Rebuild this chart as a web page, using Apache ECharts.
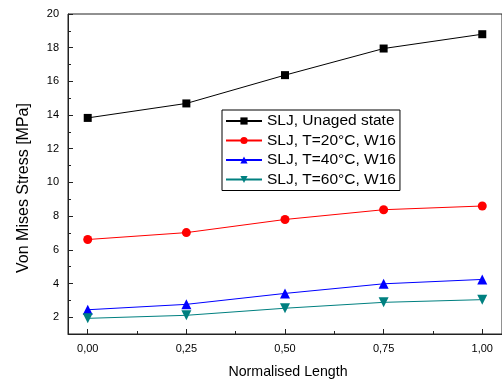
<!DOCTYPE html>
<html>
<head>
<meta charset="utf-8">
<script src="https://cdn.jsdelivr.net/npm/echarts@6/dist/echarts.min.js"></script>
<style>
html,body{margin:0;padding:0;background:#fff;}
#c{width:502px;height:385px;}
</style>
</head>
<body>
<div id="c"></div>
<script>
var xValues = [0, 0.25, 0.5, 0.75, 1.0];
var seriesNames = ['SLJ, Unaged state', 'SLJ, T=20°C, W16', 'SLJ, T=40°C, W16', 'SLJ, T=60°C, W16'];
var unaged = [13.83, 14.69, 16.37, 17.95, 18.8];
var t20 = [6.61, 7.02, 7.8, 8.38, 8.6];
var t40 = [2.44, 2.76, 3.41, 3.98, 4.24];
var t60 = [1.93, 2.11, 2.53, 2.88, 3.04];
var xMajorTicks = [0, 0.25, 0.5, 0.75, 1.0];
var xMinorTicks = [0.125, 0.375, 0.625, 0.875];
var yMajorTicks = [2, 4, 6, 8, 10, 12, 14, 16, 18, 20];
var yMinorTicks = [3, 5, 7, 9, 11, 13, 15, 17, 19];
var xTitle = 'Normalised Length';
var yTitle = 'Von Mises Stress [MPa]';

var FONT = 'Arial, "Liberation Sans", sans-serif';
function pairs(vals){ return xValues.map(function(x,i){ return [x, vals[i]]; }); }

var chart = echarts.init(document.getElementById('c'));
var axisColor = '#222';
var option = {
  animation: false,
  backgroundColor: '#fff',
  textStyle: { fontFamily: FONT },
  grid: { left: 68, top: 14, right: -1.5, bottom: 51, show: true, borderColor: axisColor, borderWidth: 1, backgroundColor: 'transparent' },
  xAxis: [
    {
      type: 'value', min: -0.05, max: 1.05, position: 'bottom',
      axisLine: { show: true, onZero: false, lineStyle: { color: axisColor, width: 1 } },
      axisTick: { show: true, inside: true, length: 5, customValues: xMajorTicks, lineStyle: { color: axisColor } },
      axisLabel: { show: true, customValues: xMajorTicks, margin: 9, fontSize: 11, color: '#000', fontFamily: FONT,
        formatter: function(v){ return v.toFixed(2).replace('.', ','); } },
      splitLine: { show: false }
    },
    {
      type: 'value', min: -0.05, max: 1.05, position: 'bottom', gridIndex: 0,
      axisLine: { show: false, onZero: false },
      axisTick: { show: true, inside: true, length: 3, customValues: xMinorTicks, lineStyle: { color: axisColor } },
      axisLabel: { show: false },
      splitLine: { show: false }
    }
  ],
  yAxis: [
    {
      type: 'value', min: 1, max: 20, position: 'left',
      axisLine: { show: true, onZero: false, lineStyle: { color: axisColor, width: 1 } },
      axisTick: { show: true, inside: true, length: 5, customValues: yMajorTicks, lineStyle: { color: axisColor } },
      axisLabel: { show: true, customValues: yMajorTicks, margin: 9, fontSize: 11, color: '#000', fontFamily: FONT },
      splitLine: { show: false }
    },
    {
      type: 'value', min: 1, max: 20, position: 'left', gridIndex: 0,
      axisLine: { show: false, onZero: false },
      axisTick: { show: true, inside: true, length: 3, customValues: yMinorTicks, lineStyle: { color: axisColor } },
      axisLabel: { show: false },
      splitLine: { show: false }
    }
  ],
  legend: {
    orient: 'vertical', left: 222, top: 110,
    borderColor: '#000', borderWidth: 1, padding: [3, 4, 3, 3],
    itemWidth: 36, itemHeight: 9, itemGap: 3.5,
    backgroundColor: '#fff',
    textStyle: { fontSize: 15.5, color: '#000', fontFamily: FONT },
    data: seriesNames
  },
  graphic: [
    { type: 'text', x: 24, y: 188, rotation: Math.PI / 2,
      style: { text: yTitle, fontSize: 16, fontFamily: FONT, fill: '#000', align: 'center', verticalAlign: 'middle' } },
    { type: 'text', x: 288, y: 372,
      style: { text: xTitle, fontSize: 14.2, fontFamily: FONT, fill: '#000', align: 'center', verticalAlign: 'middle' } }
  ],
  series: [
    { name: seriesNames[0], type: 'line', xAxisIndex: 0, yAxisIndex: 0, data: pairs(unaged),
      symbol: 'rect', symbolSize: 8, color: '#000', lineStyle: { width: 1, color: '#000' }, itemStyle: { color: '#000' } },
    { name: seriesNames[1], type: 'line', xAxisIndex: 0, yAxisIndex: 0, data: pairs(t20),
      symbol: 'circle', symbolSize: 9, color: '#ff0000', lineStyle: { width: 1, color: '#ff0000' }, itemStyle: { color: '#ff0000' } },
    { name: seriesNames[2], type: 'line', xAxisIndex: 0, yAxisIndex: 0, data: pairs(t40),
      symbol: 'triangle', symbolSize: 10, color: '#0000ff', lineStyle: { width: 1, color: '#0000ff' }, itemStyle: { color: '#0000ff' } },
    { name: seriesNames[3], type: 'line', xAxisIndex: 0, yAxisIndex: 0, data: pairs(t60),
      symbol: 'triangle', symbolRotate: 180, symbolSize: 10, color: '#008080', lineStyle: { width: 1, color: '#008080' }, itemStyle: { color: '#008080' } }
  ]
};
chart.setOption(option);
</script>
</body>
</html>
